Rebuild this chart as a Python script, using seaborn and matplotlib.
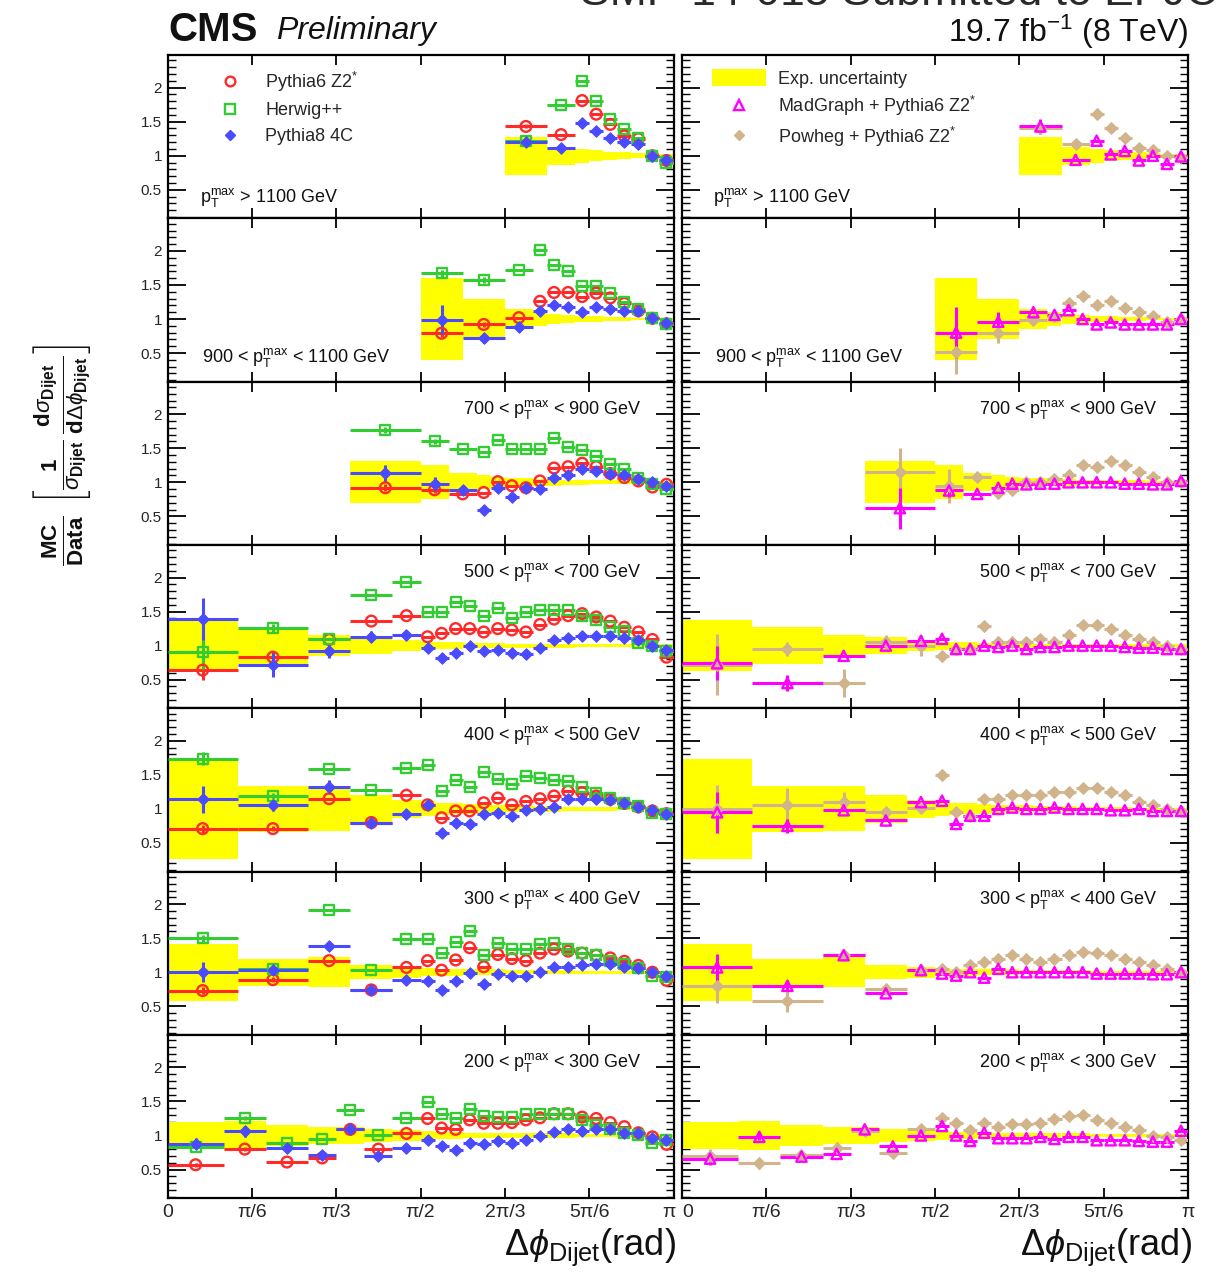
import numpy as np
import pandas as pd
import matplotlib
matplotlib.use("Agg")
import matplotlib.pyplot as plt
import seaborn as sns
from matplotlib.lines import Line2D
from matplotlib.patches import Patch
from matplotlib.ticker import FixedLocator, MultipleLocator
from matplotlib.transforms import ScaledTranslation

sns.set_theme(style="ticks")
plt.rcParams["font.family"] = ["Liberation Sans", "DejaVu Sans"]
plt.rcParams["mathtext.fontset"] = "custom"
plt.rcParams["mathtext.rm"] = "Liberation Sans"
plt.rcParams["mathtext.it"] = "Liberation Sans:italic"
plt.rcParams["mathtext.bf"] = "Liberation Sans:bold"

# ---------------------------------------------------------------- data
# Delta-phi bin edges, in units of pi/36, per p_T^max range
EDGES_1100 = [24, 27, 29, 30, 31, 32, 33, 34, 35, 36]
EDGES_900 = [18, 21, 24, 26, 27, 28, 29, 30, 31, 32, 33, 34, 35, 36]
EDGES_700 = [13, 18, 20, 22, 23, 24, 25, 26, 27, 28, 29, 30, 31, 32, 33, 34, 35, 36]
EDGES_300_700 = [0, 5, 10, 13, 16, 18, 19, 20, 21, 22, 23, 24, 25, 26, 27,
                 28, 29, 30, 31, 32, 33, 34, 35, 36]
EDGES_200 = [0, 4, 7, 10, 12, 14, 16, 18, 19, 20, 21, 22, 23, 24, 25, 26, 27,
             28, 29, 30, 31, 32, 33, 34, 35, 36]

PT_LABELS = [
    r"$\mathrm{p}_{\mathrm{T}}^{\mathrm{max}}$ > 1100 GeV",
    r"900 < $\mathrm{p}_{\mathrm{T}}^{\mathrm{max}}$ < 1100 GeV",
    r"700 < $\mathrm{p}_{\mathrm{T}}^{\mathrm{max}}$ < 900 GeV",
    r"500 < $\mathrm{p}_{\mathrm{T}}^{\mathrm{max}}$ < 700 GeV",
    r"400 < $\mathrm{p}_{\mathrm{T}}^{\mathrm{max}}$ < 500 GeV",
    r"300 < $\mathrm{p}_{\mathrm{T}}^{\mathrm{max}}$ < 400 GeV",
    r"200 < $\mathrm{p}_{\mathrm{T}}^{\mathrm{max}}$ < 300 GeV",
]

X_TICK_LABELS = ["0", "π/6", "π/3", "π/2", "2π/3", "5π/6", "π"]
Y_TICK_LABELS = ["0.5", "1", "1.5", "2"]

NAME_P6 = r"Pythia6 Z2$^{*}$"
NAME_HW = "Herwig++"
NAME_P8 = "Pythia8 4C"
NAME_UNC = "Exp. uncertainty"
NAME_MG = r"MadGraph + Pythia6 Z2$^{*}$"
NAME_PW = r"Powheg + Pythia6 Z2$^{*}$"

# p_T^max > 1100 GeV
P6_1100 = [1.43, 1.31, 1.81, 1.61, 1.46, 1.29, 1.25, 1.00, 0.93]
HW_1100 = [1.21, 1.75, 2.10, 1.81, 1.54, 1.39, 1.26, 1.00, 0.90]
P8_1100 = [1.20, 1.11, 1.48, 1.37, 1.26, 1.20, 1.17, 1.00, 0.94]
MG_1100 = [1.43, 0.94, 1.22, 1.02, 1.07, 0.93, 1.00, 0.88, 0.99]
PW_1100 = [1.40, 1.17, 1.61, 1.41, 1.26, 1.11, 1.08, 0.99, 0.98]
UNC_1100 = [0.28, 0.13, 0.10, 0.08, 0.06, 0.05, 0.04, 0.03, 0.03]

# 900 < p_T^max < 1100 GeV
P6_900 = [0.79, 0.92, 1.02, 1.26, 1.39, 1.39, 1.33, 1.38, 1.31, 1.23, 1.12, 1.01, 0.93]
HW_900 = [1.67, 1.57, 1.72, 2.01, 1.80, 1.71, 1.48, 1.49, 1.38, 1.25, 1.15, 1.01, 0.93]
P8_900 = [0.99, 0.72, 0.88, 1.12, 1.21, 1.17, 1.10, 1.18, 1.15, 1.12, 1.12, 1.01, 0.94]
MG_900 = [0.80, 0.96, 1.10, 1.06, 1.13, 1.00, 0.92, 0.95, 0.92, 0.92, 0.92, 0.92, 1.00]
PW_900 = [0.52, 0.79, 0.98, 1.05, 1.23, 1.34, 1.21, 1.27, 1.16, 1.11, 1.05, 0.95, 1.00]
UNC_900 = [0.60, 0.30, 0.14, 0.11, 0.08, 0.06, 0.05, 0.04, 0.03, 0.03, 0.02, 0.02, 0.02]

# 700 < p_T^max < 900 GeV
P6_700 = [0.92, 0.89, 0.83, 0.85, 1.01, 0.95, 0.92, 1.02, 1.21, 1.23, 1.28, 1.23,
          1.13, 1.07, 1.02, 0.93, 0.97]
HW_700 = [1.77, 1.60, 1.49, 1.44, 1.62, 1.49, 1.49, 1.49, 1.65, 1.52, 1.48, 1.38,
          1.27, 1.20, 1.07, 0.98, 0.90]
P8_700 = [1.13, 0.98, 0.88, 0.59, 0.92, 0.79, 0.92, 0.90, 1.07, 1.11, 1.20, 1.16,
          1.12, 1.10, 1.05, 1.00, 0.94]
MG_700 = [0.62, 0.88, 0.83, 0.92, 0.98, 0.97, 0.98, 0.98, 1.00, 1.00, 1.00, 1.00,
          0.98, 0.98, 0.97, 0.97, 1.02]
PW_700 = [1.15, 0.95, 1.08, 0.85, 0.88, 1.00, 1.00, 1.05, 1.10, 1.25, 1.22, 1.32,
          1.25, 1.15, 1.08, 1.00, 1.00]
UNC_700 = [0.31, 0.25, 0.13, 0.10, 0.08, 0.07, 0.06, 0.05, 0.05, 0.04, 0.04, 0.03,
           0.03, 0.03, 0.02, 0.02, 0.02]

# 500 < p_T^max < 700 GeV
P6_500 = [0.64, 0.83, 1.09, 1.36, 1.44, 1.13, 1.18, 1.25, 1.25, 1.20, 1.25, 1.23,
          1.20, 1.31, 1.39, 1.44, 1.47, 1.42, 1.36, 1.27, 1.20, 1.09, 0.83]
HW_500 = [0.90, 1.26, 1.09, 1.75, 1.93, 1.50, 1.50, 1.64, 1.58, 1.44, 1.55, 1.41,
          1.49, 1.53, 1.53, 1.52, 1.43, 1.38, 1.28, 1.21, 1.04, 1.00, 0.92]
P8_500 = [1.39, 0.72, 0.92, 1.13, 1.16, 0.97, 0.82, 0.89, 1.00, 0.92, 0.94, 0.89,
          0.88, 0.97, 1.08, 1.11, 1.14, 1.14, 1.14, 1.11, 1.08, 1.00, 0.94]
MG_500 = [0.74, 0.45, 0.85, 1.00, 1.07, 1.10, 0.95, 0.95, 1.00, 0.98, 1.00, 0.95,
          0.98, 0.98, 1.00, 1.00, 1.00, 1.00, 0.98, 0.97, 0.97, 0.95, 0.95]
PW_500 = [0.72, 0.95, 0.45, 1.05, 1.00, 0.85, 0.95, 0.95, 1.29, 1.05, 1.05, 1.05,
          1.10, 1.05, 1.15, 1.30, 1.30, 1.25, 1.15, 1.10, 1.05, 1.00, 0.95]
UNC_500 = [0.38, 0.27, 0.15, 0.12, 0.08, 0.06, 0.05, 0.05, 0.04, 0.04, 0.04, 0.03,
           0.03, 0.03, 0.03, 0.03, 0.02, 0.02, 0.02, 0.02, 0.02, 0.02, 0.02]

# 400 < p_T^max < 500 GeV
P6_400 = [0.71, 0.71, 1.15, 0.80, 1.20, 1.06, 0.87, 0.97, 0.97, 1.09, 1.16, 1.06,
          1.11, 1.15, 1.19, 1.26, 1.24, 1.19, 1.14, 1.08, 1.03, 0.97, 0.93]
HW_400 = [1.74, 1.19, 1.58, 1.28, 1.60, 1.65, 1.27, 1.43, 1.32, 1.54, 1.44, 1.36,
          1.49, 1.46, 1.43, 1.41, 1.32, 1.24, 1.16, 1.09, 1.04, 0.94, 0.93]
P8_400 = [1.14, 1.05, 1.32, 0.80, 0.93, 1.05, 0.65, 0.80, 0.78, 0.92, 0.94, 0.89,
          0.99, 1.00, 1.03, 1.14, 1.15, 1.15, 1.13, 1.08, 1.03, 0.99, 0.93]
MG_400 = [0.95, 0.75, 0.98, 0.83, 1.10, 1.12, 0.78, 0.90, 0.90, 1.00, 1.02, 1.00,
          1.00, 1.02, 1.00, 1.00, 1.00, 0.98, 0.98, 1.00, 0.97, 0.97, 0.97]
PW_400 = [1.00, 1.05, 1.10, 0.95, 1.02, 1.50, 0.95, 0.90, 1.15, 1.15, 1.20, 1.20,
          1.20, 1.25, 1.25, 1.30, 1.30, 1.25, 1.20, 1.10, 1.05, 1.00, 0.97]
UNC_400 = [0.73, 0.34, 0.33, 0.20, 0.13, 0.11, 0.09, 0.08, 0.07, 0.06, 0.05, 0.05,
           0.04, 0.04, 0.04, 0.03, 0.03, 0.03, 0.03, 0.02, 0.02, 0.02, 0.02]

# 300 < p_T^max < 400 GeV
P6_300 = [0.73, 0.89, 1.17, 0.74, 1.07, 1.17, 1.03, 1.18, 1.36, 1.08, 1.26, 1.20,
          1.17, 1.28, 1.34, 1.31, 1.28, 1.25, 1.21, 1.16, 1.10, 1.00, 0.88]
HW_300 = [1.50, 1.05, 1.91, 1.03, 1.49, 1.49, 1.28, 1.44, 1.61, 1.26, 1.43, 1.34,
          1.34, 1.42, 1.43, 1.34, 1.28, 1.25, 1.17, 1.12, 1.06, 0.94, 0.93]
P8_300 = [1.00, 1.03, 1.39, 0.74, 0.89, 0.87, 0.74, 0.87, 0.99, 0.82, 0.98, 0.95,
          0.95, 1.01, 1.07, 1.08, 1.10, 1.12, 1.12, 1.07, 1.06, 1.01, 0.95]
MG_300 = [1.07, 0.80, 1.25, 0.69, 1.03, 0.98, 0.95, 1.00, 0.92, 1.05, 1.00, 1.00,
          1.00, 1.00, 1.00, 1.00, 0.98, 0.98, 0.98, 0.98, 0.97, 0.97, 1.00]
PW_300 = [0.80, 0.57, 1.25, 0.75, 1.03, 1.05, 1.00, 1.10, 1.15, 1.20, 1.25, 1.20,
          1.15, 1.20, 1.25, 1.30, 1.28, 1.25, 1.20, 1.15, 1.10, 1.05, 1.00]
UNC_300 = [0.42, 0.20, 0.22, 0.10, 0.08, 0.06, 0.05, 0.05, 0.04, 0.04, 0.04, 0.03,
           0.03, 0.03, 0.03, 0.03, 0.02, 0.02, 0.02, 0.02, 0.02, 0.02, 0.02]

# 200 < p_T^max < 300 GeV
P6_200 = [0.57, 0.80, 0.61, 0.67, 1.09, 0.80, 1.03, 1.25, 1.11, 1.09, 1.23, 1.18,
          1.18, 1.19, 1.23, 1.26, 1.32, 1.32, 1.27, 1.25, 1.19, 1.13, 1.04, 0.98, 0.87]
HW_200 = [0.83, 1.26, 0.89, 0.95, 1.38, 1.01, 1.25, 1.49, 1.32, 1.25, 1.39, 1.29,
          1.27, 1.27, 1.32, 1.32, 1.32, 1.31, 1.23, 1.16, 1.09, 1.03, 1.01, 0.89, 0.94]
P8_200 = [0.88, 1.06, 0.82, 0.72, 1.09, 0.70, 0.82, 0.94, 0.84, 0.78, 0.89, 0.87,
          0.92, 0.89, 0.93, 1.00, 1.05, 1.09, 1.06, 1.09, 1.09, 1.04, 1.03, 0.97, 0.94]
MG_200 = [0.66, 0.98, 0.69, 0.73, 1.09, 0.84, 1.00, 1.14, 1.00, 0.92, 1.04, 0.96,
          0.96, 0.96, 0.98, 0.95, 0.98, 0.98, 0.93, 0.93, 0.93, 0.92, 0.91, 0.91, 1.07]
PW_200 = [0.70, 0.59, 0.72, 0.81, 1.07, 0.75, 1.09, 1.25, 1.19, 1.08, 1.19, 1.12,
          1.17, 1.17, 1.18, 1.24, 1.29, 1.30, 1.23, 1.19, 1.13, 1.08, 1.00, 0.98, 0.94]
UNC_200 = [0.20, 0.21, 0.15, 0.13, 0.12, 0.10, 0.08, 0.06, 0.05, 0.05, 0.04, 0.04,
           0.04, 0.03, 0.03, 0.03, 0.03, 0.03, 0.02, 0.02, 0.02, 0.02, 0.02, 0.02, 0.02]

# statistical uncertainties of the leading (wide) bins; the rest use STAT_DEFAULT
STAT_DEFAULT = 0.012
ERR_P6 = [[0.03], [0.05, 0.04], [0.05, 0.05], [0.15, 0.08], [0.06, 0.04], [0.05, 0.04], [0.03, 0.03]]
ERR_HW = [[0.03], [0.05, 0.04], [0.05, 0.03], [0.25, 0.06], [0.10, 0.04], [0.05, 0.04], [0.03, 0.03]]
ERR_P8 = [[0.05], [0.21, 0.08], [0.12, 0.10], [0.31, 0.18, 0.10, 0.08], [0.20, 0.08, 0.10],
          [0.15, 0.05], [0.08, 0.08]]
ERR_MG = [[0.11], [0.38, 0.15], [0.30, 0.10], [0.25, 0.12], [0.30, 0.10], [0.20, 0.08], [0.10, 0.05]]
ERR_PW = [[0.05], [0.33, 0.15], [0.35, 0.25], [0.45, 0.10, 0.20, 0.10, 0.15],
          [0.35, 0.25, 0.15], [0.25, 0.15], [0.10, 0.08, 0.05, 0.10]]

EDGES = [EDGES_1100, EDGES_900, EDGES_700, EDGES_300_700, EDGES_300_700, EDGES_300_700, EDGES_200]
P6 = [P6_1100, P6_900, P6_700, P6_500, P6_400, P6_300, P6_200]
HW = [HW_1100, HW_900, HW_700, HW_500, HW_400, HW_300, HW_200]
P8 = [P8_1100, P8_900, P8_700, P8_500, P8_400, P8_300, P8_200]
MG = [MG_1100, MG_900, MG_700, MG_500, MG_400, MG_300, MG_200]
PW = [PW_1100, PW_900, PW_700, PW_500, PW_400, PW_300, PW_200]
UNC = [UNC_1100, UNC_900, UNC_700, UNC_500, UNC_400, UNC_300, UNC_200]

# ---------------------------------------------------------------- style
RED, GREEN, BLUE = "#ff2a2a", "#33cc33", "#4a4aff"
MAGENTA, TAN, YELLOW = "#ff00ff", "#d2b48c", "#ffff00"
UNIT = np.pi / 36

W, H = 1218, 1280
fig = plt.figure(figsize=(W / 100, H / 100), dpi=100)
fig.patch.set_facecolor("white")

COL_X = [167.5, 682.0]
COL_W = 506.0
ROW_TOP = 55.0
ROW_H = 163.3


def add_panel(row, col):
    left = COL_X[col] / W
    bottom = 1 - (ROW_TOP + ROW_H * (row + 1)) / H
    return fig.add_axes([left, bottom, COL_W / W, ROW_H / H])


def draw_band(ax, edges, unc):
    e = np.asarray(edges, float) * UNIT
    u = np.asarray(unc, float)
    ax.bar(e[:-1], 2 * u, width=np.diff(e), bottom=1 - u, align="edge",
           color=YELLOW, linewidth=0, zorder=1)


def draw_series(ax, edges, vals, errs, color, marker, filled, size):
    e = np.asarray(edges, float) * UNIT
    x = 0.5 * (e[:-1] + e[1:])
    xerr = 0.5 * np.diff(e)
    yerr = np.full(len(vals), STAT_DEFAULT)
    yerr[:len(errs)] = errs
    ax.errorbar(x, vals, xerr=xerr, yerr=yerr, fmt="none", ecolor=color,
                elinewidth=2.2, capsize=0, zorder=3)
    df = pd.DataFrame({"dphi": x, "ratio": vals})
    if filled:
        sns.scatterplot(data=df, x="dphi", y="ratio", ax=ax, marker=marker, s=size,
                        color=color, edgecolor=color, linewidth=0.8, zorder=4,
                        legend=False)
    else:
        sns.scatterplot(data=df, x="dphi", y="ratio", ax=ax, marker=marker, s=size,
                        color=color, facecolor="none", edgecolor=color,
                        linewidth=1.7, zorder=4, legend=False)


def style_axes(ax, row, col):
    ax.set_xlim(0, np.pi)
    ax.set_ylim(0.08, 2.48)
    ax.set_xlabel("")
    ax.set_ylabel("")
    ax.xaxis.set_major_locator(FixedLocator(np.arange(7) * np.pi / 6))
    ax.yaxis.set_major_locator(FixedLocator([0.5, 1.0, 1.5, 2.0]))
    ax.yaxis.set_minor_locator(MultipleLocator(0.1))
    ax.tick_params(axis="both", which="both", direction="in", top=True, right=True,
                   color="black")
    ax.tick_params(axis="y", which="major", length=13, width=1.3, pad=4)
    ax.tick_params(axis="y", which="minor", length=6, width=1.0)
    ax.tick_params(axis="x", which="major", length=7, width=1.3, pad=4)
    for sp in ax.spines.values():
        sp.set_linewidth(1.6)
        sp.set_color("black")
    if col == 0:
        ax.set_yticklabels(Y_TICK_LABELS, fontsize=11)
    else:
        ax.set_yticklabels([])
    if row == 6:
        labels = ax.set_xticklabels(X_TICK_LABELS, fontsize=14)
        # keep the shared "π | 0" labels at the column seam apart
        if col == 0:
            lab = labels[-1]
            lab.set_transform(lab.get_transform()
                              + ScaledTranslation(-3 / 72, 0, fig.dpi_scale_trans))
        else:
            lab = labels[0]
            lab.set_transform(lab.get_transform()
                              + ScaledTranslation(4 / 72, 0, fig.dpi_scale_trans))
    else:
        ax.set_xticklabels([])


label_kw = dict(fontsize=13, color="#111111")
for row in range(7):
    edges = EDGES[row]
    # left column: LO generators
    axl = add_panel(row, 0)
    draw_band(axl, edges, UNC[row])
    draw_series(axl, edges, P6[row], ERR_P6[row], RED, "o", False, 60)
    draw_series(axl, edges, HW[row], ERR_HW[row], GREEN, "s", False, 52)
    draw_series(axl, edges, P8[row], ERR_P8[row], BLUE, "D", True, 34)
    style_axes(axl, row, 0)

    # right column: NLO / multi-leg generators
    axr = add_panel(row, 1)
    draw_band(axr, edges, UNC[row])
    draw_series(axr, edges, PW[row], ERR_PW[row], TAN, "D", True, 36)
    draw_series(axr, edges, MG[row], ERR_MG[row], MAGENTA, "^", False, 55)
    style_axes(axr, row, 1)

    for ax, x_lo, x_hi in ((axl, 0.064, 0.937), (axr, 0.061, 0.94)):
        if row == 0:
            ax.text(x_lo, 0.13, PT_LABELS[row], transform=ax.transAxes,
                    ha="left", va="center", **label_kw)
        elif row == 1:
            ax.text(x_lo + 0.004, 0.145, PT_LABELS[row], transform=ax.transAxes,
                    ha="left", va="center", **label_kw)
        else:
            ax.text(x_hi, 0.83, PT_LABELS[row], transform=ax.transAxes,
                    ha="right", va="center", **label_kw)

    if row == 0:
        left_handles = [
            Line2D([], [], ls="none", marker="o", ms=7, mfc="none", mec=RED, mew=1.7),
            Line2D([], [], ls="none", marker="s", ms=6.5, mfc="none", mec=GREEN, mew=1.7),
            Line2D([], [], ls="none", marker="D", ms=5.5, mfc=BLUE, mec=BLUE),
        ]
        axl.legend(left_handles, [NAME_P6, NAME_HW, NAME_P8], loc="upper left",
                   bbox_to_anchor=(0.088, 0.91), frameon=False, fontsize=13,
                   handlelength=2.0, handletextpad=0.95, labelspacing=0.48,
                   borderpad=0, borderaxespad=0)
        right_handles = [
            Patch(facecolor=YELLOW, edgecolor="none"),
            Line2D([], [], ls="none", marker="^", ms=7, mfc="none", mec=MAGENTA, mew=1.7),
            Line2D([], [], ls="none", marker="D", ms=5.5, mfc=TAN, mec=TAN),
        ]
        axr.legend(right_handles, [NAME_UNC, NAME_MG, NAME_PW], loc="upper left",
                   bbox_to_anchor=(0.059, 0.915), frameon=False, fontsize=13,
                   handlelength=3.0, handleheight=1.1, handletextpad=0.65,
                   labelspacing=0.36, borderpad=0, borderaxespad=0)

    if row == 6:
        for col_right in (676, 1192):
            fig.text(col_right / W, 1 - 1255 / H,
                     r"$\Delta\phi_{\mathrm{Dijet}}$(rad)", ha="right",
                     va="baseline", fontsize=26, color="#111111")

# ---------------------------------------------------------------- header
fig.text(168 / W, 1 - 30 / H, "CMS", fontsize=29, fontweight="bold",
         ha="left", va="center", color="#111111")
fig.text(276 / W, 1 - 31 / H, "Preliminary", fontsize=23, fontstyle="italic",
         ha="left", va="center", color="#111111")
fig.text(1188 / W, 1 - 32 / H, r"19.7 fb$^{-1}$ (8 TeV)", fontsize=23,
         ha="right", va="center", color="#111111")
fig.text(580 / W, 1 - 5 / H, "SMP-14-015 Submitted to EPJC", fontsize=32,
         ha="left", va="baseline", color="#2a2a2a")

# y-axis title
fig.text(62 / W, 1 - 455 / H,
         r"$\frac{\mathbf{MC}}{\mathbf{Data}}\ \left[\frac{\mathbf{1}}{\sigma_{\mathbf{Dijet}}}\,"
         r"\frac{\mathbf{d}\sigma_{\mathbf{Dijet}}}{\mathbf{d}\Delta\phi_{\mathbf{Dijet}}}\right]$",
         rotation=90, fontsize=23, ha="center", va="center", color="#111111")

fig.savefig("out.png", dpi=100, facecolor="white")
